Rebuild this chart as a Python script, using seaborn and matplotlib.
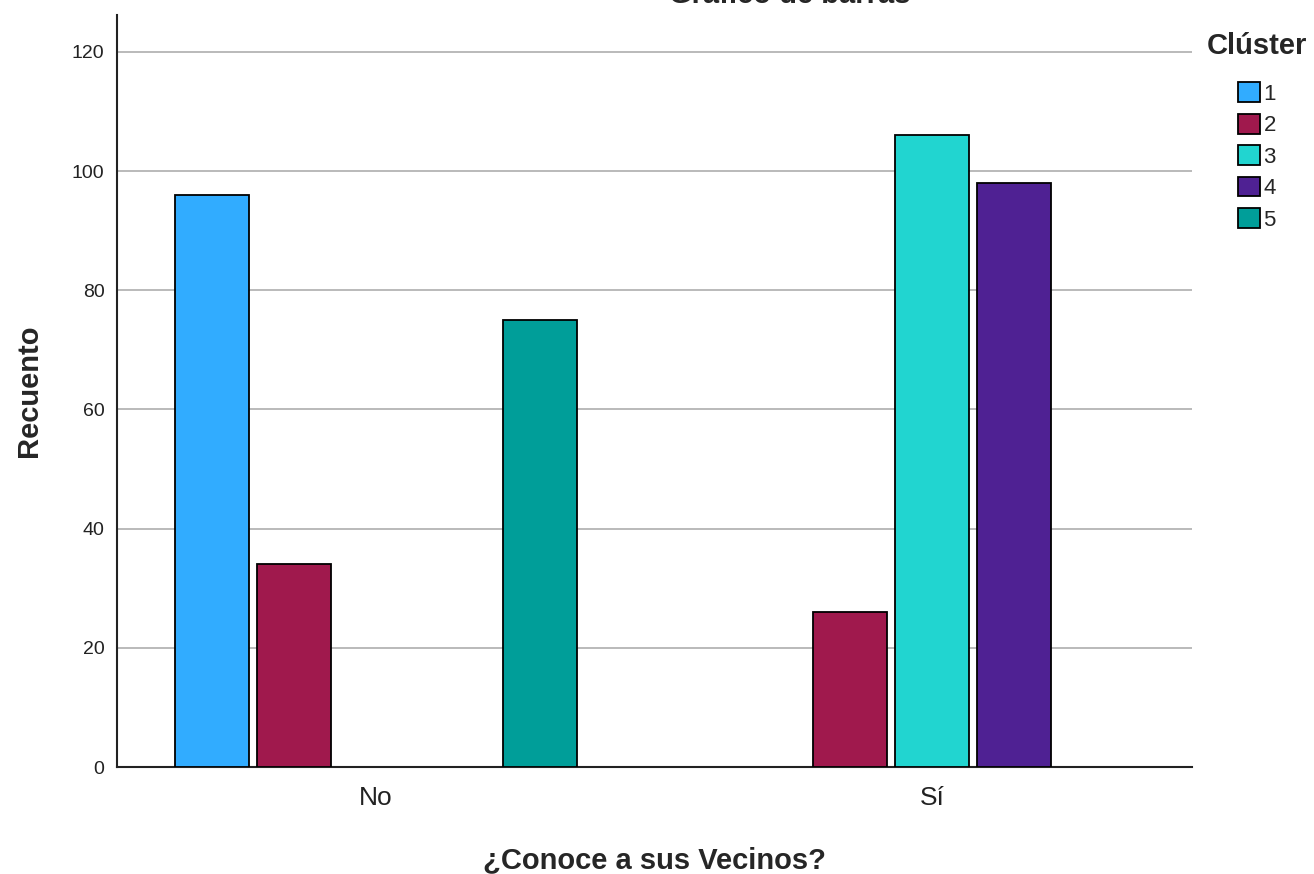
import pandas as pd
import matplotlib
matplotlib.use("Agg")
import matplotlib.pyplot as plt
import seaborn as sns

# Counts per answer and cluster (combinations with no cases are left out)
respuesta = ["No", "No", "No", "Sí", "Sí", "Sí"]
cluster = ["1", "2", "5", "2", "3", "4"]
recuento = [96, 34, 75, 26, 106, 98]

categorias = ["No", "Sí"]
clusters = ["1", "2", "3", "4", "5"]
colores = ["#31acff", "#a0194d", "#21d5d0", "#4f2193", "#009e99"]

df = pd.DataFrame({"respuesta": respuesta, "cluster": cluster, "recuento": recuento})

sns.set_style("white")
plt.rcParams["font.family"] = ["Liberation Sans", "DejaVu Sans"]

fig = plt.figure(figsize=(13.14, 8.74), dpi=100)
ax = fig.add_axes([117 / 1314, 1 - 767 / 874, (1192 - 117) / 1314, (767 - 15) / 874])

sns.barplot(data=df, x="respuesta", y="recuento", hue="cluster",
            order=categorias, hue_order=clusters,
            palette=dict(zip(clusters, colores)), saturation=1,
            width=0.737, gap=0.1, edgecolor="black", linewidth=1.3,
            ax=ax, zorder=3)

ax.set_xlim(-0.466, 1.468)
ax.set_ylim(0, 126.2)
ax.set_yticks([0, 20, 40, 60, 80, 100, 120])
ax.yaxis.grid(True, color="#b4b4b4", linewidth=1.3, zorder=0)
ax.set_axisbelow(True)

for s in ["top", "right"]:
    ax.spines[s].set_visible(False)
for s in ["left", "bottom"]:
    ax.spines[s].set_color("#222222")
    ax.spines[s].set_linewidth(1.5)

ax.tick_params(axis="y", length=0, pad=9, labelsize=14, labelcolor="#222222")
ax.tick_params(axis="x", length=0, pad=14, labelsize=19, labelcolor="#222222")

ax.set_xlabel("¿Conoce a sus Vecinos?", fontsize=21, fontweight="bold", labelpad=26)
ax.set_ylabel("Recuento", fontsize=21, fontweight="bold")
ax.yaxis.set_label_coords((43 - 117) / 1075, 0.5)

fig.text(790 / 1314, 1 - 3 / 874, "Gráfico de barras", ha="center", va="baseline",
         fontsize=21, fontweight="bold")

handles, labels = ax.get_legend_handles_labels()
leg = ax.legend(handles, labels, title="Clúster", loc="upper center",
                bbox_to_anchor=(1257 / 1314, 1 - 32 / 874), bbox_transform=fig.transFigure,
                frameon=False, fontsize=16, handlelength=1.0, handleheight=1.0,
                handletextpad=0.15, labelspacing=0.4, borderpad=0, borderaxespad=0)
leg.get_title().set_fontsize(21)
leg.get_title().set_fontweight("bold")
# wider gap between legend title and entries, as in the reference
leg._legend_box.sep = 16

fig.savefig("out.png", dpi=100)
